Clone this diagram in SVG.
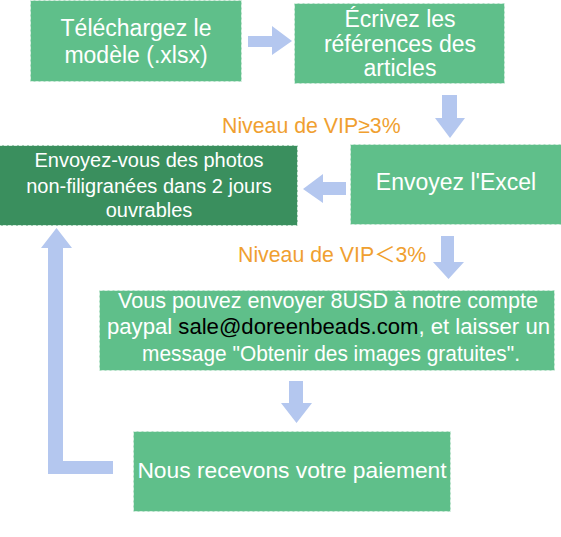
<svg xmlns="http://www.w3.org/2000/svg" width="561" height="537" viewBox="0 0 561 537">
<style>
.box{fill:#5fbf8a;stroke:#d9efe2;stroke-width:1;stroke-dasharray:3 2}
.dark{fill:#3a8f5e;stroke:#d9efe2;stroke-width:1;stroke-dasharray:3 2}
.t{font-family:"Liberation Sans",Arial,sans-serif;fill:#ffffff;text-anchor:middle}
.o{font-family:"Liberation Sans",Arial,"Noto Sans CJK SC",sans-serif;fill:#f0a030;font-size:21.3px}
.arr{fill:#b4c7ef}
</style>
<rect width="561" height="537" fill="#ffffff"/>
<g id="connectors">
<polygon class="arr" points="248,36 272,36 272,26 292,41 272,55 272,47 248,47"/>
<polygon class="arr" points="442,95 457,95 457,118 465,118 450,138 435,118 442,118"/>
<polygon class="arr" points="346,182 346,195 323,195 323,203 303,189 323,174 323,182"/>
<polygon class="arr" points="441,236 454,236 454,262 464,262 448.5,279 433,262 441,262"/>
<polygon class="arr" points="289,381 303,381 303,403 312,403 296.5,423 281,403 289,403"/>
<polygon class="arr" points="113,461 113,474 48,474 48,248 41,248 56.5,228 72,248 63,248 63,461"/>
</g>
<g id="n1">
<rect class="box" x="30.5" y="0.5" width="211" height="81"/>
<text class="t" font-size="23" x="136" y="36">Téléchargez le</text>
<text class="t" font-size="23" x="136" y="63">modèle (.xlsx)</text>
</g>
<g id="n2">
<rect class="box" x="294.5" y="3.5" width="210" height="80"/>
<text class="t" font-size="23" x="400" y="27">Écrivez les</text>
<text class="t" font-size="23" x="400" y="52">références des</text>
<text class="t" font-size="23" x="400" y="76">articles</text>
</g>
<text class="o" x="222" y="133">Niveau de VIP≥3%</text>
<g id="n3">
<rect class="dark" x="-1" y="145.5" width="298.5" height="80"/>
<text class="t" font-size="20" x="149" y="167">Envoyez-vous des photos</text>
<text class="t" font-size="20" x="149" y="193">non-filigranées dans 2 jours</text>
<text class="t" font-size="20" x="149" y="217">ouvrables</text>
</g>
<g id="n4">
<rect class="box" x="350.5" y="144.5" width="212" height="80"/>
<text class="t" font-size="23" x="456" y="190">Envoyez l'Excel</text>
</g>
<text class="o" x="238" y="262">Niveau de VIP＜3%</text>
<g id="n5">
<rect class="box" x="99.5" y="290.5" width="455" height="80"/>
<text class="t" font-size="22" x="328" y="308" textLength="420" lengthAdjust="spacingAndGlyphs">Vous pouvez envoyer 8USD à notre compte</text>
<text class="t" font-size="22" x="328.5" y="334" textLength="443" lengthAdjust="spacingAndGlyphs">paypal <tspan fill="#000000">sale@doreenbeads.com</tspan>, et laisser un</text>
<text class="t" font-size="22" x="331" y="361" textLength="378" lengthAdjust="spacingAndGlyphs">message "Obtenir des images gratuites".</text>
</g>
<g id="n6">
<rect class="box" x="133.5" y="431.5" width="317" height="80"/>
<text class="t" font-size="22.8" x="292" y="478">Nous recevons votre paiement</text>
</g>
</svg>
